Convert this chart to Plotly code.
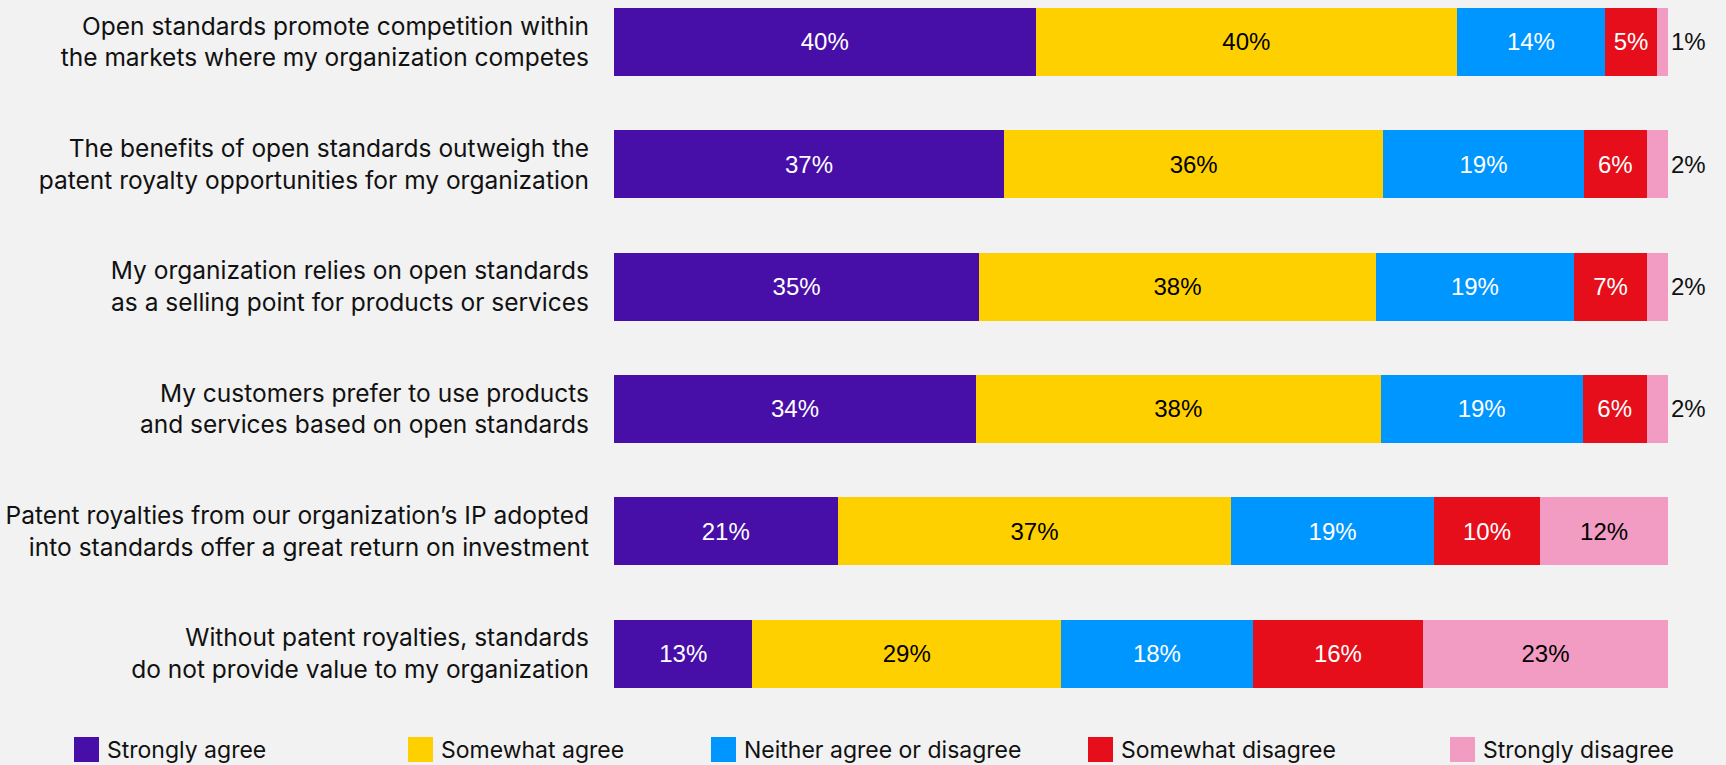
import plotly.graph_objects as go

# Survey statements (top to bottom) and response shares in percent
statements = [
    "Open standards promote competition within<br>the markets where my organization competes",
    "The benefits of open standards outweigh the<br>patent royalty opportunities for my organization",
    "My organization relies on open standards<br>as a selling point for products or services",
    "My customers prefer to use products<br>and services based on open standards",
    "Patent royalties from our organization’s IP adopted<br>into standards offer a great return on investment",
    "Without patent royalties, standards<br>do not provide value to my organization",
]

responses = ["Strongly agree", "Somewhat agree", "Neither agree or disagree",
             "Somewhat disagree", "Strongly disagree"]

strongly_agree = [40, 37, 35, 34, 21, 13]
somewhat_agree = [40, 36, 38, 38, 37, 29]
neither = [14, 19, 19, 19, 19, 18]
somewhat_disagree = [5, 6, 7, 6, 10, 16]
strongly_disagree = [1, 2, 2, 2, 12, 23]

series = [strongly_agree, somewhat_agree, neither, somewhat_disagree, strongly_disagree]
colors = ["#470FA8", "#FFD000", "#0096FF", "#E50E1A", "#F39CC3"]
label_colors = ["white", "black", "white", "white", "black"]

W, H = 1726, 765
M_L, M_R, M_T, M_B = 614, 57, 0, 65
PLOT_H = H - M_T - M_B
PLOT_W = W - M_L - M_R
X_MAX = 100.1

BG = "#F2F2F2"
TEXT_FONT = "Inter, Roboto, sans-serif"
NUM_FONT = "Liberation Sans, Arial, sans-serif"

fig = go.Figure()
for name, vals, col, tcol in zip(responses, series, colors, label_colors):
    # tiny segments carry their label just outside the end of the bar
    positions = ["outside" if v < 4 else "inside" for v in vals]
    fig.add_trace(go.Bar(
        y=statements,
        x=vals,
        name=name,
        orientation="h",
        marker=dict(color=col, line=dict(width=0)),
        text=[f"{v}%" for v in vals],
        texttemplate="%{text}",
        textposition=positions,
        insidetextanchor="middle",
        insidetextfont=dict(family=NUM_FONT, size=24, color=tcol),
        outsidetextfont=dict(family=NUM_FONT, size=24, color="#111111"),
        constraintext="none",
        cliponaxis=False,
        width=0.556,
        showlegend=False,
        hovertemplate="%{y}<br>" + name + ": %{text}<extra></extra>",
    ))


def px_x(p):
    return (p - M_L) / PLOT_W


def px_y(p):
    return (M_T + PLOT_H - p) / PLOT_H


# Legend row along the bottom edge
legend_left = [74, 408, 711, 1088, 1450]
shapes = []
annotations = []
for name, col, left in zip(responses, colors, legend_left):
    shapes.append(dict(
        type="rect", xref="paper", yref="paper",
        x0=px_x(left), x1=px_x(left + 25), y0=px_y(762), y1=px_y(737),
        fillcolor=col, line=dict(width=0), layer="above",
    ))
    annotations.append(dict(
        xref="paper", yref="paper", x=px_x(left + 31), y=px_y(750),
        xanchor="left", yanchor="middle", showarrow=False,
        text=name, font=dict(family=TEXT_FONT, size=23, color="#111111"),
    ))

fig.update_layout(
    width=W, height=H,
    margin=dict(l=M_L, r=M_R, t=M_T, b=M_B, pad=0, autoexpand=False),
    barmode="stack",
    barnorm="percent",
    paper_bgcolor=BG,
    plot_bgcolor=BG,
    shapes=shapes,
    annotations=annotations,
    xaxis=dict(range=[0, X_MAX], visible=False, fixedrange=True, automargin=False),
    yaxis=dict(
        type="category",
        range=[5.38, -0.343],
        automargin=False,
        showgrid=False, zeroline=False, showline=False,
        ticks="", ticklabelstandoff=24,
        tickfont=dict(family=TEXT_FONT, size=24.5, color="#111111"),
        fixedrange=True,
    ),
)

fig.write_html("out.html")
